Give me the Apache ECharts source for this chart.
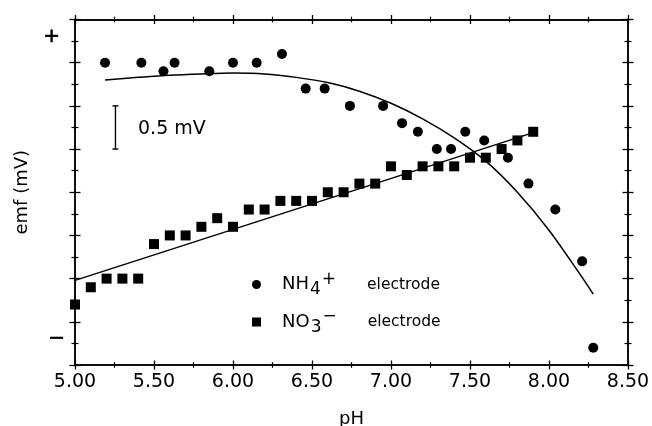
<!DOCTYPE html>
<html>
<head>
<meta charset="utf-8">
<script src="https://cdn.jsdelivr.net/npm/echarts@6/dist/echarts.min.js"></script>
<style>html,body{margin:0;padding:0;background:#fff;}#c{width:652px;height:426px;}</style>
</head>
<body>
<div id="c"></div>
<script>
// ---- data ----
const nh4PH  = [5.19,5.42,5.56,5.63,5.85,6.00,6.15,6.31,6.46,6.58,6.74,6.95,7.07,7.17,7.29,7.38,7.47,7.59,7.74,7.87,8.04,8.21,8.28];
const nh4EMF = [3.5,3.5,3.4,3.5,3.4,3.5,3.5,3.6,3.2,3.2,3.0,3.0,2.8,2.7,2.5,2.5,2.7,2.6,2.4,2.1,1.8,1.2,0.2];
const no3PH  = [5.0,5.1,5.2,5.3,5.4,5.5,5.6,5.7,5.8,5.9,6.0,6.1,6.2,6.3,6.4,6.5,6.6,6.7,6.8,6.9,7.0,7.1,7.2,7.3,7.4,7.5,7.6,7.7,7.8,7.9];
const no3EMF = [0.7,0.9,1.0,1.0,1.0,1.4,1.5,1.5,1.6,1.7,1.6,1.8,1.8,1.9,1.9,1.9,2.0,2.0,2.1,2.1,2.3,2.2,2.3,2.3,2.3,2.4,2.4,2.5,2.6,2.7];
const nh4FitPH  = [5.19,5.4,5.6,5.8,6.0,6.2,6.4,6.6,6.8,7.0,7.2,7.4,7.6,7.8,8.0,8.2,8.28];
const nh4FitEMF = [3.30,3.33,3.355,3.37,3.38,3.37,3.33,3.27,3.17,3.03,2.85,2.63,2.36,2.00,1.56,1.04,0.82];
const no3FitPH  = [5.0,7.9];
const no3FitEMF = [0.98,2.69];
const scaleBarPH = 5.256;
const scaleBarEMF = [2.5,3.0];
const scaleBarText = '0.5 mV';
const xTickLabels = ['5.00','5.50','6.00','6.50','7.00','7.50','8.00','8.50'];
const xName = 'pH';
const yName = 'emf (mV)';
const seriesNames = ['NH4+ electrode','NO3- electrode'];

const zip = (a,b) => a.map((v,i)=>[v,b[i]]);
const FONT = 'DejaVu Sans';
const black = '#000';

function xAx(pos, inside, main){
  return {
    type:'value', min:5, max:8.5, interval:0.5, position:pos,
    axisLine:{show:true, onZero:false, lineStyle:{color:black, width:1.5}},
    axisTick:{show:true, inside:inside, length:4.5, lineStyle:{color:black, width:1.3}},
    minorTick:{show:true, splitNumber:2, length:2.8, lineStyle:{color:black, width:1.2}},
    splitLine:{show:false},
    axisLabel:{show:!!main, margin:8, fontFamily:FONT, fontSize:19, color:black,
      formatter:(v)=>{const i=Math.round((v-5)/0.5); return xTickLabels[i]||'';}},
    name: main?xName:'', nameLocation:'middle', nameGap:45,
    nameTextStyle:{fontFamily:FONT, fontSize:18, color:black}
  };
}
function yAx(pos, inside, main){
  return {
    type:'value', min:0, max:4, interval:0.5, position:pos,
    axisLine:{show:true, onZero:false, lineStyle:{color:black, width:1.5}},
    axisTick:{show:true, inside:inside, length:5.5, lineStyle:{color:black, width:1.3}},
    minorTick:{show:true, splitNumber:2, length:3.5, lineStyle:{color:black, width:1.2}},
    splitLine:{show:false},
    axisLabel:{show:false},
    name: main?yName:'', nameLocation:'middle', nameGap:44, nameRotate:90,
    nameTextStyle:{fontFamily:FONT, fontSize:18, color:black}
  };
}

const chart = echarts.init(document.getElementById('c'), null, {renderer:'canvas'});
chart.setOption({
  animation:false,
  backgroundColor:'#fff',
  grid:{left:75, right:24, top:19.5, bottom:61, containLabel:false, outerBoundsMode:'none'},
  xAxis:[xAx('bottom',false,true), xAx('bottom',true), xAx('top',false), xAx('top',true)],
  yAxis:[yAx('left',false,true), yAx('left',true), yAx('right',false), yAx('right',true)],
  legend:{
    orient:'vertical', left:252, top:271, padding:0, itemGap:10,
    itemWidth:9, itemHeight:9, selectedMode:false,
    data:[{name:seriesNames[0], icon:'circle'},{name:seriesNames[1], icon:'rect'}],
    formatter:(n)=> n===seriesNames[0] ? '{b|NH}{sub|4}{sup|+}{e|electrode}' : '{b|NO}{sub|3}{sup|\u2212}{e|electrode}',
    textStyle:{
      padding:[0,0,0,16],
      rich:{
        b:{fontFamily:FONT, fontSize:18, color:black, height:24},
        sub:{fontFamily:FONT, fontSize:17, color:black, padding:[11,0,0,1]},
        sup:{fontFamily:FONT, fontSize:17, color:black, padding:[0,0,10,1]},
        e:{fontFamily:FONT, fontSize:15.5, color:black, padding:[0,0,0,31]}
      }
    }
  },
  graphic:[
    {type:'text', left:43, top:26, style:{text:'+', font:'20px '+FONT, fill:black, stroke:black, lineWidth:0.6}},
    {type:'text', left:48, top:328, style:{text:'\u2212', font:'20px '+FONT, fill:black, stroke:black, lineWidth:0.6}},
    {type:'text', left:138, top:120, style:{text:scaleBarText, font:'19px '+FONT, fill:black}}
  ],
  series:[
    {name:seriesNames[0], type:'scatter', xAxisIndex:0, yAxisIndex:0, symbol:'circle', symbolSize:10,
     itemStyle:{color:black, opacity:1}, data:zip(nh4PH,nh4EMF), z:5},
    {name:seriesNames[1], type:'scatter', xAxisIndex:0, yAxisIndex:0, symbol:'rect', symbolSize:10,
     itemStyle:{color:black, opacity:1}, data:zip(no3PH,no3EMF), z:5},
    {name:'nh4fit', type:'line', xAxisIndex:0, yAxisIndex:0, smooth:0.3, showSymbol:false, symbol:'none',
     lineStyle:{color:black, width:1.5}, data:zip(nh4FitPH,nh4FitEMF), z:3},
    {name:'no3fit', type:'line', xAxisIndex:0, yAxisIndex:0, showSymbol:false, symbol:'none',
     lineStyle:{color:black, width:1.5}, data:zip(no3FitPH,no3FitEMF), z:3},
    {name:'scalebar', type:'custom', xAxisIndex:0, yAxisIndex:0,
     data:[[scaleBarPH, scaleBarEMF[0], scaleBarEMF[1]]],
     renderItem:(params, api)=>{
       const p1 = api.coord([api.value(0), api.value(1)]);
       const p2 = api.coord([api.value(0), api.value(2)]);
       const w = 3;
       const st = {stroke:black, lineWidth:1.4};
       return {type:'group', children:[
         {type:'line', shape:{x1:p1[0],y1:p1[1],x2:p2[0],y2:p2[1]}, style:st},
         {type:'line', shape:{x1:p1[0]-w,y1:p1[1],x2:p1[0]+w,y2:p1[1]}, style:st},
         {type:'line', shape:{x1:p2[0]-w,y1:p2[1],x2:p2[0]+w,y2:p2[1]}, style:st}
       ]};
     }}
  ]
});
</script>
</body>
</html>
